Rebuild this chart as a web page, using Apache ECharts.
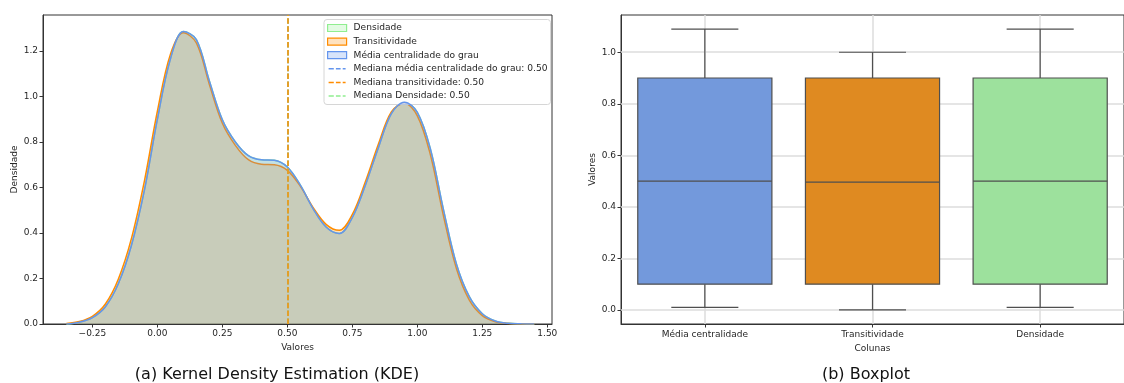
<!DOCTYPE html>
<html><head><meta charset="utf-8">
<script src="https://cdn.jsdelivr.net/npm/echarts@6/dist/echarts.min.js"></script>
<style>html,body{margin:0;padding:0;background:#fff}#c{width:1124px;height:383px}</style>
</head><body><div id="c"></div>
<script>
// ---- KDE data ----
const kdeX = [-0.35,-0.30,-0.25,-0.20,-0.15,-0.10,-0.05,0.00,0.05,0.10,0.15,0.20,0.25,0.30,0.35,0.40,0.45,0.50,0.55,0.60,0.65,0.70,0.75,0.80,0.85,0.90,0.95,1.00,1.05,1.10,1.15,1.20,1.25,1.30,1.35,1.40,1.45];
const kdeMedia = [0.000,0.008,0.028,0.076,0.178,0.345,0.588,0.900,1.165,1.285,1.250,1.068,0.897,0.800,0.740,0.722,0.720,0.690,0.610,0.505,0.425,0.398,0.468,0.610,0.775,0.925,0.975,0.930,0.770,0.505,0.265,0.120,0.045,0.013,0.003,0.001,0.000];
const kdeTransitividade = [0.002,0.011,0.034,0.088,0.198,0.375,0.628,0.935,1.185,1.280,1.235,1.053,0.882,0.785,0.722,0.702,0.700,0.675,0.605,0.510,0.437,0.412,0.482,0.625,0.790,0.932,0.970,0.915,0.745,0.478,0.245,0.105,0.037,0.010,0.002,0.000,0.000];
const kdeDensidade = [0.000,0.008,0.028,0.076,0.178,0.345,0.588,0.900,1.165,1.285,1.250,1.068,0.897,0.800,0.740,0.722,0.720,0.690,0.610,0.505,0.425,0.398,0.468,0.610,0.775,0.925,0.975,0.930,0.770,0.505,0.265,0.120,0.045,0.013,0.003,0.001,0.000];
const medianMedia = 0.50;
const medianTransitividade = 0.496;
const medianDensidade = 0.50;
const kdeXTicks = [-0.25,0.00,0.25,0.50,0.75,1.00,1.25,1.50];
const kdeYTicks = [0.0,0.2,0.4,0.6,0.8,1.0,1.2];

// ---- Boxplot data ----
const boxCategories = ['Média centralidade','Transitividade','Densidade'];
const boxMin    = [0.01, 0.00, 0.01];
const boxQ1     = [0.10, 0.10, 0.10];
const boxMedian = [0.50, 0.496, 0.50];
const boxQ3     = [0.90, 0.90, 0.90];
const boxMax    = [1.09, 1.00, 1.09];
const boxYTicks = [0.0,0.2,0.4,0.6,0.8,1.0];

const FONT = 'DejaVu Sans';
const C_BLUE = '#6495ED', C_ORANGE = '#FF8C00', C_GREEN = '#90EE90';
const boxFill = ['#7399DC', '#DF8A21', '#9DE19D'];
const edge = '#4f4f4f';
const fmtMinus = v => (v < -1e-9 ? '\u2212' : '') + Math.abs(v).toFixed(2);
const pair = (xs, ys) => xs.map((x, i) => [x, ys[i]]);
const DASH_ICON = 'path://M0,0L0,0M17,7L17,7M0,2.75h5.2v1.5h-5.2zM7.3,2.75h4.7v1.5h-4.7zM14.1,2.75h2.9v1.5h-2.9z';

const labMedMedia = 'Mediana média centralidade do grau: ' + medianMedia.toFixed(2);
const labMedTrans = 'Mediana transitividade: ' + medianTransitividade.toFixed(2);
const labMedDens = 'Mediana Densidade: ' + medianDensidade.toFixed(2);

function kdeSeries(name, ys, color, rgba, z) {
  return {
    type: 'line', name, xAxisIndex: 0, yAxisIndex: 0, data: pair(kdeX, ys),
    smooth: 0.35, symbol: 'none', z,
    lineStyle: { color, width: 1.5 },
    itemStyle: { color },
    areaStyle: { color: rgba, opacity: 1 },
    animation: false, silent: true
  };
}
function medianSeries(name, value, color, z) {
  return {
    type: 'line', name, xAxisIndex: 0, yAxisIndex: 0, data: [], symbol: 'none', z,
    lineStyle: { color, width: 1.5, type: [5.5, 2.4] }, itemStyle: { color },
    markLine: {
      z, symbol: 'none', silent: true, label: { show: false }, animation: false,
      lineStyle: { color, width: 1.5, type: [5.5, 2.4] },
      data: [{ xAxis: value }]
    }
  };
}

const axisTxt = { fontSize: 9, color: '#262626', fontFamily: FONT };
const chart = echarts.init(document.getElementById('c'), null, { renderer: 'canvas' });
chart.setOption({
  animation: false,
  backgroundColor: '#fff',
  textStyle: { fontFamily: FONT },
  grid: [
    { left: 43, top: 15, width: 509, height: 309, show: true, borderColor: '#333', borderWidth: 1, containLabel: false },
    { left: 621, top: 15, width: 512, height: 309, show: true, borderColor: '#333', borderWidth: 1, containLabel: false }
  ],
  xAxis: [
    { type: 'value', gridIndex: 0, min: -0.44, max: 1.518,
      splitLine: { show: false },
      axisLine: { show: true, onZero: false, lineStyle: { color: '#333', width: 1 } },
      axisTick: { show: true, customValues: kdeXTicks, length: 3.5, lineStyle: { color: '#333' } },
      axisLabel: Object.assign({ customValues: kdeXTicks, formatter: fmtMinus, margin: 5 }, axisTxt),
      name: 'Valores', nameLocation: 'middle', nameGap: 19, nameTextStyle: axisTxt },
    { type: 'category', gridIndex: 1, data: boxCategories, boundaryGap: true,
      splitLine: { show: false },
      axisLine: { show: true, onZero: false, lineStyle: { color: '#333', width: 1 } },
      axisTick: { show: true, alignWithLabel: true, length: 3.5, lineStyle: { color: '#333' } },
      axisLabel: Object.assign({ margin: 6, interval: 0 }, axisTxt),
      name: 'Colunas', nameLocation: 'middle', nameGap: 19, nameTextStyle: axisTxt }
  ],
  yAxis: [
    { type: 'value', gridIndex: 0, min: 0, max: 1.358,
      splitLine: { show: false },
      axisLine: { show: true, onZero: false, lineStyle: { color: '#333', width: 1 } },
      axisTick: { show: true, customValues: kdeYTicks, length: 3.5, lineStyle: { color: '#333' } },
      axisLabel: Object.assign({ customValues: kdeYTicks, formatter: v => v.toFixed(1), margin: 5 }, axisTxt),
      name: 'Densidade', nameLocation: 'middle', nameGap: 24, nameTextStyle: axisTxt },
    { type: 'value', gridIndex: 1, min: -0.0545, max: 1.1445,
      splitLine: { show: false },
      axisLine: { show: true, onZero: false, lineStyle: { color: '#333', width: 1 } },
      axisTick: { show: true, customValues: boxYTicks, length: 3.5, lineStyle: { color: '#333' } },
      axisLabel: Object.assign({ customValues: boxYTicks, formatter: v => v.toFixed(1), margin: 5 }, axisTxt),
      name: 'Valores', nameLocation: 'middle', nameGap: 24, nameTextStyle: axisTxt }
  ],
  legend: {
    orient: 'vertical', left: 324, top: 19.5, itemWidth: 19, itemHeight: 7, itemGap: 2.6,
    padding: [3, 3, 3, 3], backgroundColor: 'rgba(255,255,255,0.85)', borderColor: '#d6d6d6', borderWidth: 1, borderRadius: 3,
    textStyle: { fontSize: 9.1, lineHeight: 11, color: '#262626', fontFamily: FONT, padding: [0, 0, 0, 2] },
    selectedMode: false,
    data: [
      { name: 'Densidade', icon: 'rect', itemStyle: { color: 'rgba(144,238,144,0.25)', borderColor: C_GREEN, borderWidth: 1.2 } },
      { name: 'Transitividade', icon: 'rect', itemStyle: { color: 'rgba(255,140,0,0.25)', borderColor: C_ORANGE, borderWidth: 1.2 } },
      { name: 'Média centralidade do grau', icon: 'rect', itemStyle: { color: 'rgba(100,149,237,0.25)', borderColor: C_BLUE, borderWidth: 1.2 } },
      { name: labMedMedia, icon: DASH_ICON, itemStyle: { color: C_BLUE, borderWidth: 0 } },
      { name: labMedTrans, icon: DASH_ICON, itemStyle: { color: C_ORANGE, borderWidth: 0 } },
      { name: labMedDens, icon: DASH_ICON, itemStyle: { color: C_GREEN, borderWidth: 0 } }
    ]
  },
  series: [
    kdeSeries('Densidade', kdeDensidade, C_GREEN, 'rgba(144,238,144,0.25)', 2),
    kdeSeries('Transitividade', kdeTransitividade, C_ORANGE, 'rgba(255,140,0,0.25)', 3),
    kdeSeries('Média centralidade do grau', kdeMedia, C_BLUE, 'rgba(100,149,237,0.25)', 4),
    medianSeries(labMedMedia, medianMedia, C_BLUE, 5),
    medianSeries(labMedTrans, medianTransitividade, C_ORANGE, 7),
    medianSeries(labMedDens, medianDensidade, C_GREEN, 6),
    { type: 'line', xAxisIndex: 1, yAxisIndex: 1, data: [], z: 1, silent: true,
      markLine: { z: 1, symbol: 'none', silent: true, animation: false, label: { show: false },
        lineStyle: { color: '#dcdcdc', width: 1.5, type: 'solid' },
        data: boxYTicks.map(v => ({ yAxis: v })).concat(boxCategories.map((c, i) => ({ xAxis: i }))) } },
    { type: 'custom', xAxisIndex: 1, yAxisIndex: 1, z: 3, silent: true,
      data: boxCategories.map((c, i) => [i, boxMin[i], boxQ1[i], boxMedian[i], boxQ3[i], boxMax[i]]),
      encode: { x: 0, y: [1, 2, 3, 4, 5] },
      renderItem: function (params, api) {
        const i = api.value(0);
        const band = api.size([1, 0])[0];
        const bw = band * 0.8, cw = band * 0.4;
        const pMin = api.coord([i, api.value(1)]);
        const pQ1 = api.coord([i, api.value(2)]);
        const pMed = api.coord([i, api.value(3)]);
        const pQ3 = api.coord([i, api.value(4)]);
        const pMax = api.coord([i, api.value(5)]);
        const x = pMin[0];
        const st = { stroke: edge, lineWidth: 1.2 };
        return { type: 'group', children: [
          { type: 'line', shape: { x1: x, y1: pMin[1], x2: x, y2: pQ1[1] }, style: st },
          { type: 'line', shape: { x1: x, y1: pQ3[1], x2: x, y2: pMax[1] }, style: st },
          { type: 'line', shape: { x1: x - cw / 2, y1: pMin[1], x2: x + cw / 2, y2: pMin[1] }, style: st },
          { type: 'line', shape: { x1: x - cw / 2, y1: pMax[1], x2: x + cw / 2, y2: pMax[1] }, style: st },
          { type: 'rect', shape: { x: x - bw / 2, y: pQ3[1], width: bw, height: pQ1[1] - pQ3[1] }, style: { fill: boxFill[params.dataIndex], stroke: edge, lineWidth: 1.2 } },
          { type: 'line', shape: { x1: x - bw / 2, y1: pMed[1], x2: x + bw / 2, y2: pMed[1] }, style: st }
        ] };
      } }
  ],
  graphic: [
    { type: 'text', x: 277, y: 375, style: { text: '(a) Kernel Density Estimation (KDE)', fontSize: 16, fontFamily: FONT, fill: '#111', align: 'center', verticalAlign: 'middle' } },
    { type: 'text', x: 866, y: 375, style: { text: '(b) Boxplot', fontSize: 16, fontFamily: FONT, fill: '#111', align: 'center', verticalAlign: 'middle' } }
  ]
});
</script></body></html>
